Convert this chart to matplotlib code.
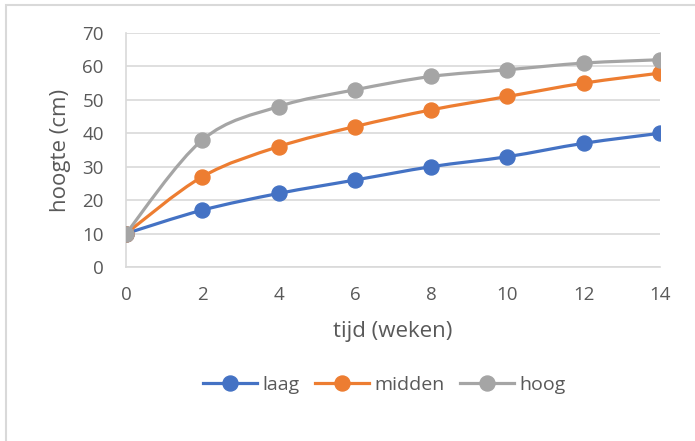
import numpy as np
import matplotlib.pyplot as plt
from matplotlib.path import Path
from matplotlib.patches import PathPatch, Rectangle
from matplotlib.lines import Line2D

plt.rcParams['font.family'] = ['Open Sans', 'DejaVu Sans']

# data
weeks = [0, 2, 4, 6, 8, 10, 12, 14]
laag = [10, 17, 22, 26, 30, 33, 37, 40]
midden = [10, 27, 36, 42, 47, 51, 55, 58]
hoog = [10, 38, 48, 53, 57, 59, 61, 62]
series = [('laag', laag, '#4472C4'),
          ('midden', midden, '#ED7D31'),
          ('hoog', hoog, '#A5A5A5')]

txt = '#595959'
grid = '#D9D9D9'


def smooth_path(x, y):
    # Excel-style smoothed line: cubic bezier segments through the points
    pts = np.column_stack([x, y]).astype(float)
    n = len(pts)
    verts = [pts[0]]
    codes = [Path.MOVETO]
    for i in range(n - 1):
        p0 = pts[max(i - 1, 0)]
        p1 = pts[i]
        p2 = pts[i + 1]
        p3 = pts[min(i + 2, n - 1)]
        c1 = p1 + (p2 - p0) / 6
        c2 = p2 - (p3 - p1) / 6
        verts += [c1, c2, p2]
        codes += [Path.CURVE4] * 3
    return Path(verts, codes)


fig = plt.figure(figsize=(6.95, 4.41), dpi=100)
ax = fig.add_axes([0.1813, 0.3946, 0.7683, 0.5306])

handles = []
for i, (name, vals, col) in enumerate(series):
    ax.add_patch(PathPatch(smooth_path(weeks, vals), fill=False, edgecolor=col,
                           lw=2.3, zorder=3 + i, capstyle='round'))
    ax.plot(weeks, vals, 'o', color=col, ms=10.8, zorder=3 + i)
    handles.append(Line2D([], [], color=col, lw=2.3, marker='o', ms=10.8))

ax.set_xlim(0, 14)
ax.set_ylim(0, 70)
ax.set_xticks(range(0, 15, 2))
ax.set_yticks(range(0, 71, 10))
ax.grid(axis='y', color=grid, lw=1.2)
ax.set_axisbelow(True)
for s in ['top', 'right']:
    ax.spines[s].set_visible(False)
for s in ['left', 'bottom']:
    ax.spines[s].set_color(grid)
    ax.spines[s].set_linewidth(1.2)
ax.tick_params(length=0, labelsize=13.5, labelcolor=txt, pad=16)
ax.tick_params(axis='x', pad=14)
ax.set_xlabel('tijd (weken)', fontsize=16, color=txt, labelpad=12)
ax.set_ylabel('hoogte (cm)', fontsize=16, color=txt, labelpad=8)

fig.legend(handles, [s[0] for s in series], loc='center', bbox_to_anchor=(0.5525, 0.127),
           ncol=3, frameon=False, fontsize=14, labelcolor=txt, handlelength=2.8,
           handletextpad=0.25, columnspacing=0.8)

fig.patches.append(Rectangle((6 / 695, -0.1), 1.1, 1.1 - 5 / 441, transform=fig.transFigure,
                             fill=False, edgecolor=grid, lw=1.5))

fig.savefig('out.png', dpi=100)
